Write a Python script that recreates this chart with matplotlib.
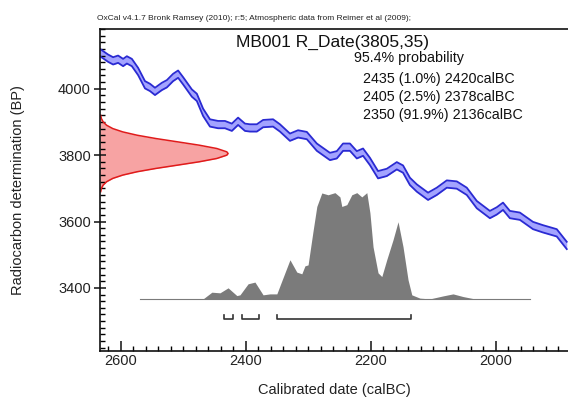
import matplotlib
matplotlib.use("Agg")
import matplotlib.pyplot as plt
from matplotlib.ticker import MultipleLocator

plt.rcParams["font.family"] = ["Liberation Sans", "DejaVu Sans"]

# Calibration curve (IntCal09), centre line
cal_years = [2633, 2620, 2612, 2604, 2596, 2590, 2582, 2572, 2561, 2553, 2545, 2534,
             2526, 2516, 2508, 2500, 2486, 2478, 2468, 2457, 2444, 2433, 2422, 2412,
             2401, 2393, 2382, 2372, 2356, 2345, 2329, 2316, 2302, 2286, 2265, 2254,
             2244, 2233, 2222, 2212, 2201, 2188, 2174, 2158, 2148, 2137, 2126, 2108,
             2094, 2078, 2062, 2046, 2030, 2009, 1998, 1988, 1977, 1961, 1940, 1924,
             1902, 1886]
cal_bp = [4109, 4092, 4084, 4089, 4079, 4087, 4079, 4052, 4012, 4004, 3992, 4007,
          4015, 4034, 4044, 4024, 3987, 3974, 3929, 3897, 3892, 3892, 3884, 3902,
          3884, 3882, 3882, 3895, 3897, 3882, 3854, 3864, 3859, 3824, 3796, 3801,
          3824, 3824, 3801, 3809, 3781, 3741, 3748, 3768, 3758, 3721, 3701, 3676,
          3691, 3713, 3710, 3691, 3651, 3621, 3632, 3646, 3621, 3616, 3588, 3578,
          3566, 3528]
cal_err = 11

# Radiocarbon date R_Date(3805,35), relative density
rc_bp = [3690, 3700, 3710, 3720, 3730, 3740, 3750, 3760, 3770, 3780, 3790, 3800, 3805,
         3810, 3820, 3830, 3840, 3850, 3860, 3870, 3880, 3890, 3900, 3910, 3920]
rc_prob = [0.005, 0.011, 0.025, 0.052, 0.10, 0.178, 0.29, 0.437, 0.607, 0.775, 0.912,
           0.99, 1.0, 0.99, 0.912, 0.775, 0.607, 0.437, 0.29, 0.178, 0.10, 0.052,
           0.025, 0.011, 0.005]

# Calibrated date distribution, relative probability
post_years = [2468, 2454, 2441, 2428, 2414, 2409, 2396, 2385, 2372, 2361, 2350, 2342,
              2329, 2318, 2310, 2305, 2300, 2292, 2286, 2278, 2268, 2257, 2249, 2246,
              2238, 2230, 2222, 2214, 2206, 2201, 2196, 2188, 2182, 2174, 2164, 2156,
              2148, 2140, 2134, 2121, 2105, 2084, 2068, 2052, 2036, 2020]
post_prob = [0.0, 0.063, 0.057, 0.104, 0.031, 0.038, 0.142, 0.158, 0.038, 0.047, 0.047,
             0.17, 0.368, 0.252, 0.236, 0.311, 0.32, 0.64, 0.87, 0.997, 0.98, 1.0, 0.96,
             0.87, 0.887, 0.98, 1.0, 0.96, 1.0, 0.81, 0.49, 0.245, 0.21, 0.37, 0.557,
             0.726, 0.49, 0.18, 0.038, 0.007, 0.0, 0.028, 0.047, 0.022, 0.003, 0.0]

# 95.4% ranges
ranges = [(2435, 2420), (2405, 2378), (2350, 2136)]
range_text = ["2435 (1.0%) 2420calBC", "2405 (2.5%) 2378calBC", "2350 (91.9%) 2136calBC"]

xmin, xmax = 2633, 1884
ymin, ymax = 3210, 4180

fig = plt.figure(figsize=(5.68, 3.99), dpi=100)
ax = fig.add_axes([100 / 568, 48 / 399, 468 / 568, 322 / 399])

# calibration curve band
upper = [v + cal_err for v in cal_bp]
lower = [v - cal_err for v in cal_bp]
ax.fill_between(cal_years, lower, upper, color="#a3a3ff", lw=0)
ax.plot(cal_years, upper, color="#2a2ad2", lw=1.3)
ax.plot(cal_years, lower, color="#2a2ad2", lw=1.3)

# radiocarbon date on the y axis
red_w = 205
red_x = [xmin - p * red_w for p in rc_prob]
ax.fill_betweenx(rc_bp, xmin, red_x, color="#f7a3a3", lw=0)
ax.plot(red_x, rc_bp, color="#e01b1b", lw=1.1)

# calibrated distribution
base, height = 3367, 320
post_y = [base + p * height for p in post_prob]
ax.fill_between(post_years, base, post_y, color="#7b7b7b", lw=0)
ax.plot([2569, 1945], [base, base], color="#7b7b7b", lw=0.8)

# range brackets
by, bh = 3307, 11
for a, b in ranges:
    ax.plot([a, a, b, b], [by + bh, by, by, by + bh], color="#333333", lw=1.2)

ax.set_xlim(xmin, xmax)
ax.set_ylim(ymin, ymax)
ax.set_xticks([2600, 2400, 2200, 2000])
ax.set_yticks([3400, 3600, 3800, 4000])
ax.xaxis.set_minor_locator(MultipleLocator(20))
ax.yaxis.set_minor_locator(MultipleLocator(20))
ax.tick_params(axis="x", which="major", direction="in", length=7, width=1.2,
               labelsize=10.5, pad=2, colors="#222222")
ax.tick_params(axis="x", which="minor", direction="in", length=3.5, width=1)
ax.tick_params(axis="y", which="major", direction="inout", length=9, width=1.2,
               labelsize=10.5, pad=2, colors="#222222")
ax.tick_params(axis="y", which="minor", direction="in", length=3.5, width=1)
ax.spines["right"].set_visible(False)
for s in ["left", "bottom", "top"]:
    ax.spines[s].set_linewidth(1.2)
    ax.spines[s].set_color("#111111")

fig.text(18 / 568, 1 - 190 / 399, "Radiocarbon determination (BP)", rotation=90,
         ha="center", va="center", fontsize=10.5, color="#222222")
fig.text(334 / 568, 1 - 390 / 399, "Calibrated date (calBC)", ha="center",
         va="center", fontsize=10.5, color="#222222")

fig.text(97 / 568, 1 - 19 / 399,
         "OxCal v4.1.7 Bronk Ramsey (2010); r:5; Atmospheric data from Reimer et al (2009);",
         ha="left", va="center", fontsize=6, color="#222222")
fig.text(236 / 568, 1 - 42 / 399, "MB001 R_Date(3805,35)", ha="left", va="center",
         fontsize=12.5, color="#111111")
fig.text(354 / 568, 1 - 58 / 399, "95.4% probability", ha="left", va="center",
         fontsize=10.3, color="#111111")
for i, t in enumerate(range_text):
    fig.text(363 / 568, 1 - (79 + 18 * i) / 399, t, ha="left", va="center",
             fontsize=10.3, color="#111111")

fig.savefig("out.png", dpi=100)
